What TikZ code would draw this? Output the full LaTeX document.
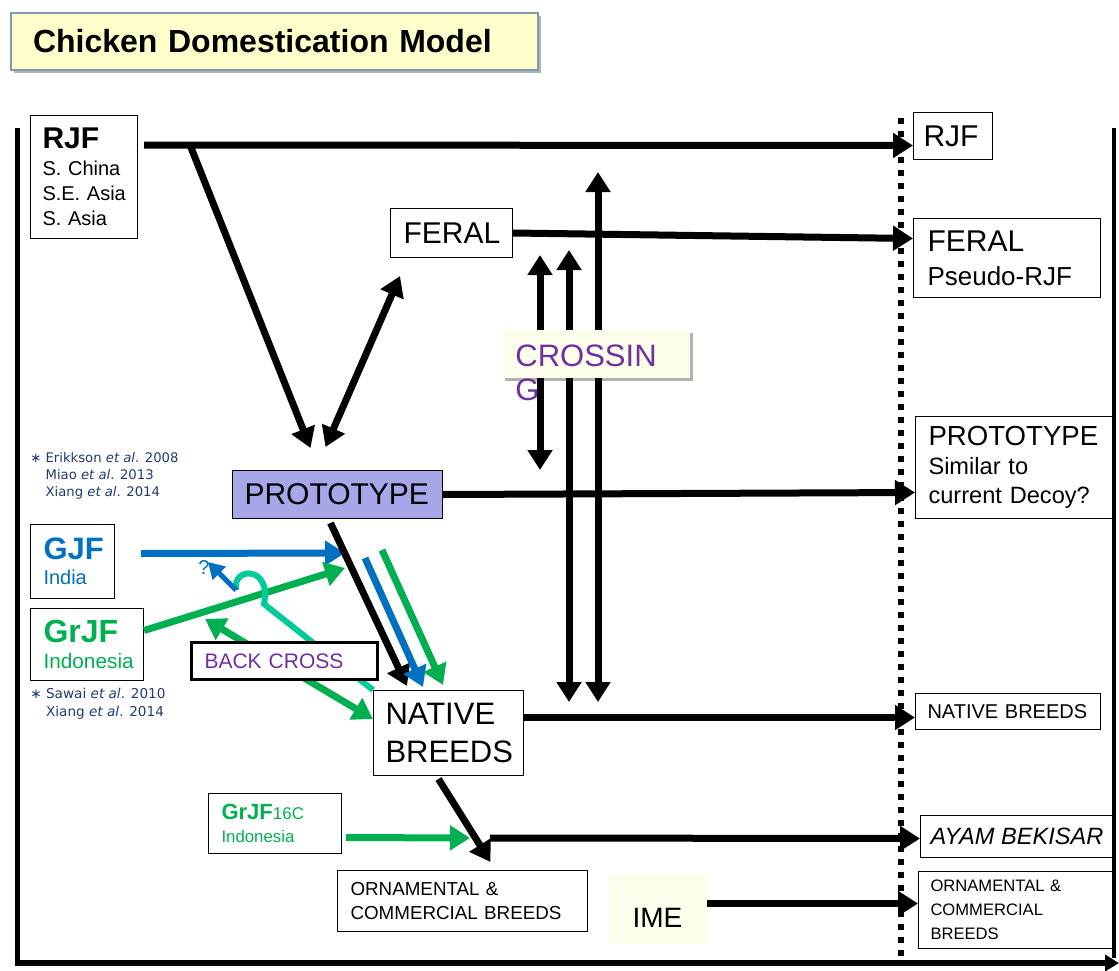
\documentclass[tikz,border=0pt]{standalone}
\usepackage{fontspec}
\setmainfont{Liberation Sans}
\newfontfamily\reffont{DejaVu Sans}
\usepackage{xcolor}
\usepackage{tikz}
\usetikzlibrary{arrows.meta,positioning,shadows}

\definecolor{gjfblue}{HTML}{0070C0}
\definecolor{grjfgreen}{HTML}{00B050}
\definecolor{backteal}{HTML}{00CC99}
\definecolor{crosspurple}{HTML}{7030A0}
\definecolor{refnavy}{HTML}{1F3A70}
\definecolor{protofill}{HTML}{A6A6E8}
\definecolor{titlefill}{HTML}{FFFFCC}
\definecolor{titleline}{HTML}{7F9BAF}
\definecolor{notefill}{HTML}{FDFDEC}

\newcommand{\fsz}[2]{\fontsize{#1}{#2}\selectfont}

\begin{document}
\begin{tikzpicture}[
x=0.5pt, y=-0.5pt,
box/.style={
    rectangle, draw, line width=0.5pt,
    anchor=north west,
    inner xsep=6.5pt, inner ysep=1pt,
    align=left
},
note/.style={
    rectangle, anchor=north west,
    inner sep=0pt, align=left
},
shade/.style={
    drop shadow={shadow xshift=1.5pt, shadow yshift=-1.5pt, opacity=0.3, fill=black}
},
arr/.style={line width=3.5pt, -{Triangle[length=10pt,width=12pt]}},
darr/.style={line width=3.5pt, {Triangle[length=10pt,width=12pt]}-{Triangle[length=10pt,width=12pt]}},
garr/.style={arr, grjfgreen},
barr/.style={arr, gjfblue}
]
\useasboundingbox (0,0) rectangle (1119,970);

% frame and time line
\draw[line width=2.5pt] (17,128) -- (17,966);
\draw[line width=2pt] (1114,128) -- (1114,958);
\draw[line width=3pt, -{Triangle[length=7pt,width=8pt]}] (15,963) -- (1119,963);
\draw[line width=3pt, dash pattern=on 3pt off 3.5pt] (901,118) -- (901,960);

\node[box, shade, fill=titlefill, draw=titleline, line width=1pt, inner xsep=11pt,
      text width=241.5pt, minimum height=28.5pt, font=\bfseries\fsz{16}{19}] (title) at (10,12)
  {Chicken Domestication Model};

% left side
\node[box, inner xsep=6pt, text width=41.5pt, minimum height=61.5pt, font=\fsz{10}{12.5}] (rjf) at (30,115)
  {{\bfseries\fsz{15}{15}RJF}\\[1pt]S.~China\\S.E.~Asia\\S.~Asia};
\node[box, text width=48pt, minimum height=24.5pt, font=\fsz{15}{18}] (feral) at (390,208) {FERAL};
\node[box, fill=protofill, inner xsep=6pt, text width=93pt, minimum height=24pt,
      font=\fsz{15}{18}] (proto) at (232,470) {PROTOTYPE};
\node[box, text width=29pt, minimum height=37pt, text=gjfblue, font=\fsz{10}{12.5}] (gjf) at (30,524)
  {{\bfseries\fsz{15.5}{15.5}GJF}\\India};
\node[box, text width=43.5pt, minimum height=36pt, text=grjfgreen, font=\fsz{10.4}{13}] (grjf) at (30,608)
  {{\bfseries\fsz{16}{16}GrJF}\\Indonesia};
\node[box, inner xsep=6pt, text width=63pt, minimum height=42.5pt, font=\fsz{15.5}{19}] (native) at (373,690)
  {NATIVE\\BREEDS};
\node[box, text width=53.5pt, minimum height=30pt, text=grjfgreen, font=\fsz{8.4}{11.5}] (grjf16) at (208,793)
  {{\bfseries\fsz{11}{11}GrJF}{\fsz{8.5}{8.5}16C}\\Indonesia};
\node[box, text width=112pt, minimum height=30.5pt, font=\fsz{9.4}{12}] (ornament) at (337,870)
  {ORNAMENTAL \&\\COMMERCIAL BREEDS};
\node[box, draw=none, fill=notefill, inner xsep=12pt, text width=25pt, minimum height=35pt,
      text height=18.5pt, text depth=0pt, font=\fsz{14}{16}] (ime) at (608,873) {IME};

% references
\node[note, text=refnavy, font=\reffont\fsz{6.6}{8.5}] (ref1) at (30,452)
  {∗ Erikkson \textit{et al}. 2008\\\hphantom{∗ }Miao \textit{et al}. 2013\\\hphantom{∗ }Xiang \textit{et al}. 2014};
\node[note, text=refnavy, font=\reffont\fsz{6.8}{9}] (ref2) at (30,688)
  {∗ Sawai \textit{et al}. 2010\\\hphantom{∗ }Xiang \textit{et al}. 2014};

% right side
\node[box, inner xsep=5pt, text width=29.5pt, minimum height=23.5pt, font=\fsz{15}{18}] (rjfR) at (913,112) {RJF};
\node[box, inner xsep=7pt, text width=79.5pt, minimum height=39.5pt, font=\fsz{13}{17}] (feralR) at (913,218)
  {{\fsz{15}{17}FERAL}\\Pseudo-RJF};
\node[box, text width=85.5pt, minimum height=51pt, font=\fsz{11.8}{14.5}] (protoR) at (915,416)
  {{\fsz{13.8}{14.5}PROTOTYPE}\\Similar to\\current Decoy?};
\node[box, inner xsep=6pt, text width=80.5pt, minimum height=18pt, font=\fsz{10}{12}] (nativeR) at (915,693)
  {NATIVE BREEDS};
\node[box, inner xsep=5pt, minimum width=96.5pt, minimum height=21pt, font=\itshape\fsz{11.8}{14}] (ayamR) at (920,815)
  {AYAM BEKISAR};
\node[box, inner xsep=6pt, text width=85pt, minimum height=38.5pt, font=\fsz{8.3}{12}] (ornR) at (918,871)
  {ORNAMENTAL \&\\COMMERCIAL\\BREEDS};

% RJF, FERAL, PROTOTYPE
\coordinate (rjfsplit) at (190,145);
\draw[arr] ([xshift=3pt,yshift=-15pt]rjf.north east) -- ([yshift=-4.75pt]rjfR.west);
\draw[arr] (rjfsplit) -- ([xshift=-13.5pt,yshift=11pt]proto.north);
\draw[darr] ([xshift=-6pt,yshift=11.5pt]proto.north) -- ([xshift=5pt,yshift=-9pt]feral.south west);
\draw[arr] (feral.east) -- ([yshift=9.75pt]feralR.west);
\draw[arr] (proto.east) -- ([yshift=-12.5pt]protoR.west);

% crossing
\foreach \n/\x/\t/\b in {a/540/255/470, b/569/250/702, c/598/172/702}{
  \coordinate (cross\n top) at (\x,\t);
  \coordinate (cross\n bot) at (\x,\b);
  \draw[darr] (cross\n top) -- (cross\n bot);
}

% jungle fowl into the native breeds
\coordinate (gjfin) at (345,553);
\coordinate (grjfin) at (345,568);
\coordinate (gjfout) at (365,558);
\coordinate (grjfout) at (382,550);
\draw[barr] ([xshift=13pt,yshift=4pt]gjf.east) -- (gjfin);
\draw[garr] ([yshift=7pt]grjf.east) -- (grjfin);
\draw[arr] ([xshift=-3.5pt,yshift=-2pt]proto.south) -- ([xshift=17pt,yshift=2pt]native.north west);
\draw[barr] (gjfout) -- ([xshift=25pt,yshift=1.5pt]native.north west);
\draw[garr] (grjfout) -- ([xshift=35pt,yshift=2.5pt]native.north west);

% back cross
\coordinate (bcup) at (205,619);
\coordinate (humpin) at (264,604);
\coordinate (humpout) at (236,590);
\coordinate (qtip) at (208,562);
\draw[darr, grjfgreen] (bcup) -- ([yshift=7pt]native.west);
\draw[line width=3pt, backteal] (native.north west) -- (humpin)
  .. controls (272,566) and (232,566) .. (humpout);
\draw[line width=2.5pt, gjfblue, -{Triangle[length=8pt,width=9pt]}] (humpout) -- (qtip);
\node[note, text=gjfblue, font=\fsz{10}{11}] (query) at (198,560) {?};

% native breeds onwards
\draw[arr] ([yshift=7.75pt]native.east) -- ([yshift=-3pt]nativeR.west);
\draw[arr] ([xshift=-5pt,yshift=-1.5pt]native.south) -- ([xshift=14pt,yshift=4pt]ornament.north);
\coordinate (grjf16in) at (470,838);
\coordinate (bekjoin) at (490,838);
\draw[garr] ([xshift=2pt,yshift=-7pt]grjf16.east) -- (grjf16in);
\draw[arr] (bekjoin) -- ([yshift=-1pt]ayamR.west);
\draw[arr] ([yshift=2.5pt]ime.east) -- ([yshift=3.25pt]ornR.west);

% labels on top
\node[box, line width=1.5pt, fill=white, text width=80pt, minimum height=18.5pt,
      text=crosspurple, font=\fsz{10.5}{12}] (backcross) at (190,641) {BACK CROSS};
\node[rectangle, shade, fill=notefill, anchor=north west, inner xsep=6.5pt, inner ysep=0pt,
      minimum width=94pt, minimum height=24pt, text height=12pt, text depth=0pt,
      text=crosspurple, font=\fsz{15.5}{17}] (crossing) at (502,330)
  {\parbox[t]{81pt}{CROSSIN\\G}};

\end{tikzpicture}
\end{document}
